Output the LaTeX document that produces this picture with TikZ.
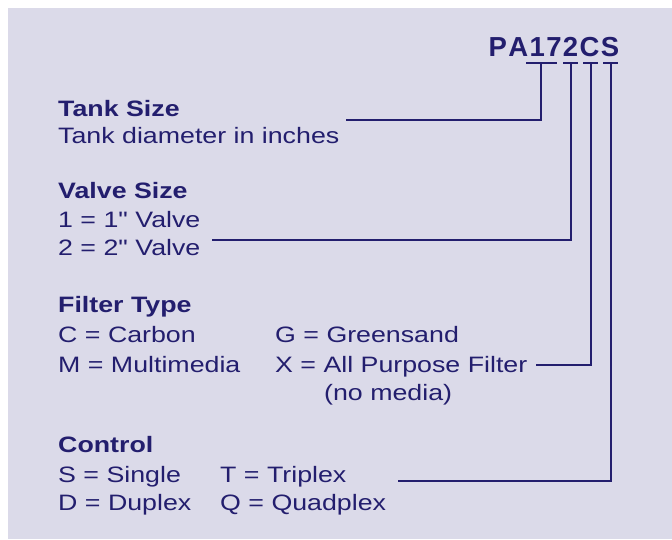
\documentclass[tikz,border=0pt]{standalone}
\usepackage{fontspec}
\setmainfont{Liberation Sans}[FakeStretch=1.2,Ligatures=TeXOff]
\newfontfamily\titlefont{Liberation Sans}[LetterSpace=5,Kerning=Off,Ligatures=TeXOff]
\definecolor{navy}{RGB}{35,30,110}
\definecolor{lilac}{RGB}{219,218,233}
\begin{document}
\begin{tikzpicture}[x=1pt,y=-1pt,
  txt/.style={anchor=base west,inner sep=0pt,text=navy,font=\fontsize{22.3}{26}\selectfont},
  head/.style={txt,font=\fontsize{22.3}{26}\selectfont\bfseries},
  conn/.style={draw=navy,line width=2.7pt}]
\useasboundingbox (0,0) rectangle (672,539);
\fill[lilac] (8,8) rectangle (672,539);
\node[anchor=base west,inner sep=0pt,text=navy,font=\titlefont\fontsize{27.5}{30}\selectfont\bfseries] (code) at (488.5,56) {PA172CS};
\coordinate (b1a) at (526,63); \coordinate (b1b) at (557,63); \coordinate (t1) at (541,63);
\coordinate (b2a) at (563,63); \coordinate (b2b) at (578,63); \coordinate (t2) at (571,63);
\coordinate (b3a) at (583,63); \coordinate (b3b) at (598,63); \coordinate (t3) at (591,63);
\coordinate (b4a) at (603,63); \coordinate (b4b) at (618,63); \coordinate (t4) at (611,63);
\draw[conn] (b1a) -- (b1b);
\draw[conn] (b2a) -- (b2b);
\draw[conn] (b3a) -- (b3b);
\draw[conn] (b4a) -- (b4b);
% Tank size
\node[head] (tankh) at (58,116) {Tank Size};
\node[txt] (tank) at (58,143) {Tank diameter in inches};
\coordinate (tankend) at (346,120);
\draw[conn] (tankend) -| (t1);
% Valve size
\node[head] (valveh) at (58,198) {Valve Size};
\node[txt] (valve1) at (58,227) {1 = 1" Valve};
\node[txt] (valve2) at (58,255) {2 = 2" Valve};
\coordinate (valveend) at (212,240);
\draw[conn] (valveend) -| (t2);
% Filter type
\node[head] (filterh) at (58,312) {Filter Type};
\node[txt] (fc) at (58,342) {C = Carbon};
\node[txt] (fg) at (275,342) {G = Greensand};
\node[txt] (fm) at (58,372) {M = Multimedia};
\node[txt] (fx) at (275,372) {X = All Purpose Filter};
\node[txt] (fno) at (324,400) {(no media)};
\coordinate (filterend) at (536,365);
\draw[conn] (filterend) -| (t3);
% Control
\node[head] (ctrlh) at (58,452) {Control};
\node[txt] (cs) at (58,482) {S = Single};
\node[txt] (ct) at (220,482) {T = Triplex};
\node[txt] (cd) at (58,510) {D = Duplex};
\node[txt] (cq) at (220,510) {Q = Quadplex};
\coordinate (ctrlend) at (398,481);
\draw[conn] (ctrlend) -| (t4);
\end{tikzpicture}
\end{document}
